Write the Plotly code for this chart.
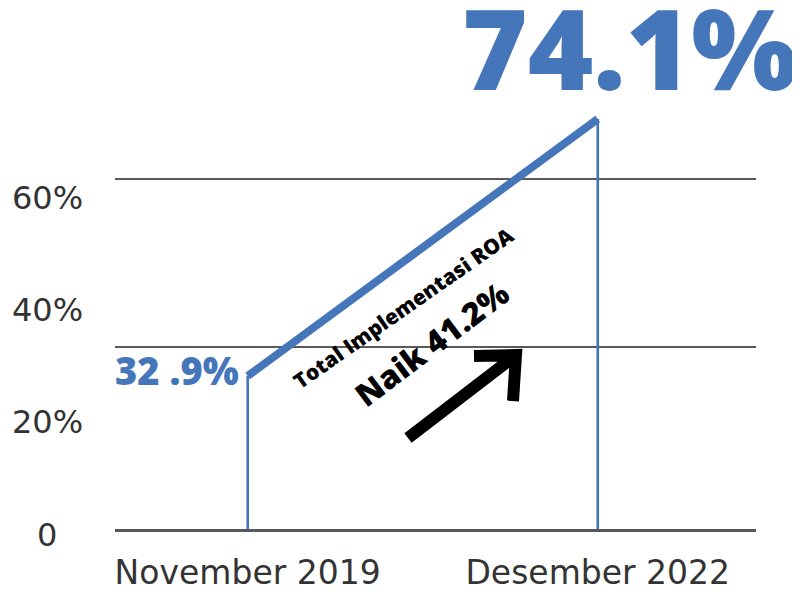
import plotly.graph_objects as go

# ---- data ----
categories = ["November 2019", "Desember 2022"]
roa_values = [32.9, 74.1]
value_labels = ["32 .9%", "74.1%"]
y_tick_values = [0, 20, 40, 60]
y_tick_labels = ["0", "20%", "40%", "60%"]
grid_levels = [37.5, 64.4]
title_line = "Total Implementasi ROA"
change_label = "Naik 41.2%"

BLUE = "#4676BA"
GRID = "#595959"
TEXT = "#333333"
BOLD_FONT = "Open Sans"
LABEL_FONT = "DejaVu Sans"

W, H = 800, 592
OFF = 8  # page body margin offset
L, R, T, B = 115, 756, 100, 529  # plot area in page pixels
LABEL_SCALE = (1.0, 77.5)        # value range of the labelled (left) scale
LABEL_X = 47                      # centre of the left tick labels, page px


def paper(px, py):
    return (px - L) / (R - L), (B - py) / (B - T)


fig = go.Figure()

# thin verticals from baseline to each value
fig.add_trace(go.Bar(
    x=categories, y=roa_values, width=0.0075,
    marker=dict(color=BLUE, line=dict(width=0)),
    hoverinfo="skip", showlegend=False,
))
# thick connecting line
fig.add_trace(go.Scatter(
    x=categories, y=roa_values, mode="lines",
    line=dict(color=BLUE, width=8),
    hoverinfo="skip", showlegend=False,
))


def pt(px, py):
    x, y = paper(px, py)
    return f"{x:.5f},{y:.5f}"


arrow_path = (f"M {pt(408, 438)} L {pt(511, 359)} "
              f"M {pt(474, 356)} L {pt(516, 355)} L {pt(513, 401)}")
fig.add_shape(type="path", path=arrow_path, xref="paper", yref="paper",
              line=dict(color="black", width=12))

annotations = [
    dict(x=categories[1], y=roa_values[1], xref="x", yref="y",
         text=value_labels[1], showarrow=False, xshift=32, yshift=72,
         font=dict(family=BOLD_FONT, size=112, color=BLUE, weight=800)),
    dict(x=categories[0], y=roa_values[0], xref="x", yref="y",
         text=value_labels[0], showarrow=False, xanchor="right",
         xshift=-7, yshift=6,
         font=dict(family=BOLD_FONT, size=38, color=BLUE, weight=800)),
]
tx, ty = paper(403, 308)
annotations.append(dict(x=tx, y=ty, xref="paper", yref="paper",
                        text=title_line, showarrow=False, textangle=-35,
                        font=dict(family=BOLD_FONT, size=21, color="black", weight=800)))
nx, ny = paper(431, 343)
annotations.append(dict(x=nx, y=ny, xref="paper", yref="paper",
                        text=change_label, showarrow=False, textangle=-37,
                        font=dict(family=BOLD_FONT, size=32, color="black", weight=800)))

# left tick labels on the labelled scale
lo, hi = LABEL_SCALE
lx, _ = paper(LABEL_X, 0)
for v, txt in zip(y_tick_values, y_tick_labels):
    annotations.append(dict(
        x=lx, y=(v - lo) / (hi - lo), xref="paper", yref="paper",
        text=txt, showarrow=False, xanchor="center", yanchor="middle",
        font=dict(family=LABEL_FONT, size=32, color=TEXT),
    ))

fig.update_layout(
    width=W, height=H, template="none",
    paper_bgcolor="white", plot_bgcolor="white",
    margin=dict(l=L - OFF, r=W - (R - OFF), t=T - OFF, b=H - (B - OFF), pad=0),
    showlegend=False,
    annotations=annotations,
    xaxis=dict(
        type="category", range=[-0.379, 1.452], automargin=False,
        showgrid=False, zeroline=False, ticks="",
        showline=True, linecolor=GRID, linewidth=2.5,
        tickfont=dict(family=LABEL_FONT, size=33, color=TEXT),
        ticklabelstandoff=13,
    ),
    yaxis=dict(
        range=[8.37, 77.14], automargin=False,
        tickvals=grid_levels, showticklabels=False, ticks="",
        showgrid=True, gridcolor=GRID, gridwidth=2.2,
        zeroline=False, showline=False,
    ),
)

fig.write_html("out.html")
